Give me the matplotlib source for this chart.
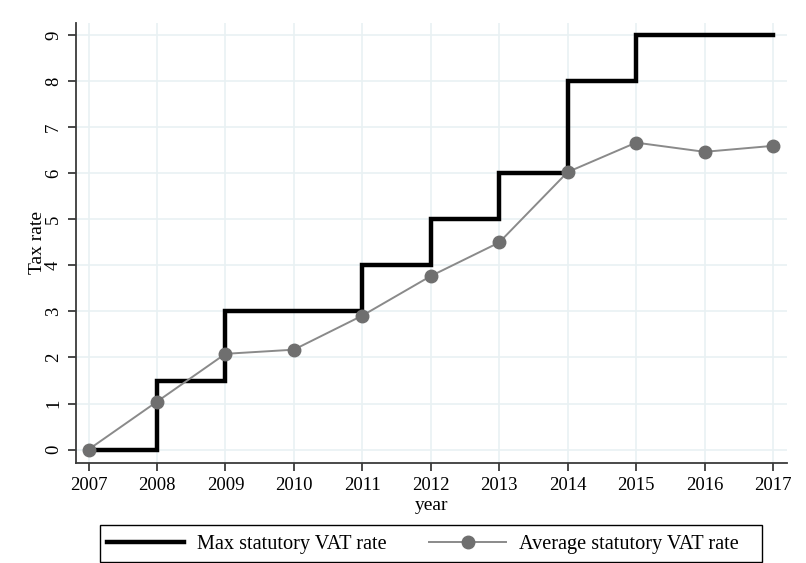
import matplotlib
matplotlib.use("Agg")
import matplotlib.pyplot as plt
from matplotlib.lines import Line2D
from matplotlib.patches import Rectangle

years = [2007, 2008, 2009, 2010, 2011, 2012, 2013, 2014, 2015, 2016, 2017]
max_rate = [0, 1.5, 3, 3, 4, 5, 6, 8, 9, 9, 9]
avg_rate = [0, 1.04, 2.08, 2.17, 2.91, 3.77, 4.5, 6.03, 6.67, 6.47, 6.6]
yticks = list(range(0, 10))

plt.rcParams['font.family'] = ['Liberation Serif', 'DejaVu Serif']

W, H = 806, 563
fig = plt.figure(figsize=(W / 100, H / 100), dpi=100)
ax = fig.add_axes([76/W, 1 - 463/H, (787 - 76)/W, (463 - 23)/H])

grid_c = '#e9f1f3'
spine_c = '#3a3a3a'

ax.plot(years, max_rate, drawstyle='steps-post', color='black', lw=3.2,
        solid_joinstyle='miter', zorder=3)
ax.plot(years, avg_rate, color='#8a8a8a', lw=1.4, marker='o', markersize=9,
        markerfacecolor='#6f6f6f', markeredgecolor='#6f6f6f', zorder=4)

ax.set_xlim(2006.817, 2017.205)
ax.set_ylim(-0.293, 9.27)
ax.set_xticks(years)
ax.set_yticks(yticks)
ax.grid(True, color=grid_c, lw=1.2, zorder=0)
ax.set_axisbelow(True)
for s in ['top', 'right']:
    ax.spines[s].set_visible(False)
for s in ['left', 'bottom']:
    ax.spines[s].set_color(spine_c)
    ax.spines[s].set_linewidth(1.3)
ax.tick_params(axis='both', direction='out', length=6, width=1.3, color=spine_c,
               labelsize=13.5, pad=4)
for lab in ax.get_yticklabels():
    lab.set_rotation(90)
    lab.set_va('center')
ax.set_xlabel('year', fontsize=14, labelpad=2.5)
ax.set_ylabel('Tax rate', fontsize=14, labelpad=-0.8)

handles = [
    Line2D([], [], color='black', lw=3.2),
    Line2D([], [], color='#8a8a8a', lw=1.4, marker='o', markersize=9,
           markerfacecolor='#6f6f6f', markeredgecolor='#6f6f6f'),
]
labels = ['Max statutory VAT rate', 'Average statutory VAT rate']
leg = fig.legend(handles, labels, ncol=2, loc='center',
                 bbox_to_anchor=(423/W, 1 - 544/H), frameon=False,
                 fontsize=14.6, handlelength=3.8, columnspacing=2.1,
                 handletextpad=0.64, borderpad=0.3)
fig.patches.append(Rectangle((100/W, 1 - 562/H), 662/W, 37/H,
                             transform=fig.transFigure, fill=False,
                             edgecolor='black', lw=1.0))

fig.savefig('out.png', dpi=100)
